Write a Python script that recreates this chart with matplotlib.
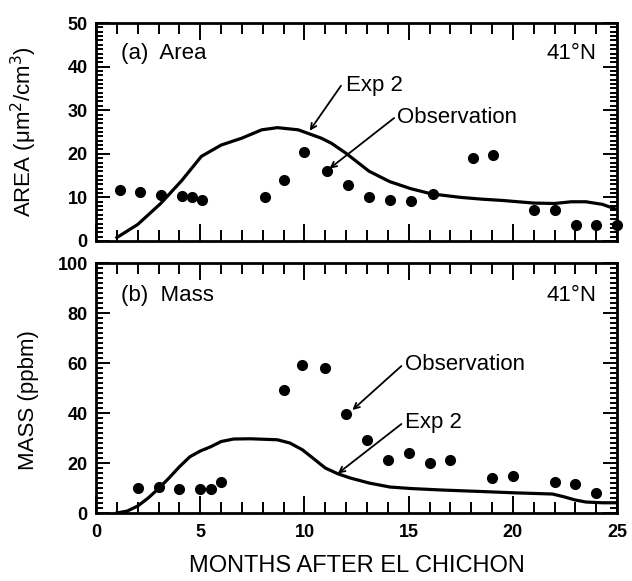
import matplotlib
matplotlib.use('Agg')
import matplotlib.pyplot as plt
from matplotlib.ticker import MultipleLocator

plt.rcParams['font.family'] = ['Liberation Sans', 'DejaVu Sans']

# (a) surface area density, 41N
area_obs_month = [1.15, 2.1, 3.1, 4.1, 4.6, 5.1, 8.1, 9.0, 10.0, 11.1, 12.1,
                  13.1, 14.1, 15.1, 16.15, 18.1, 19.05, 21.0, 22.0, 23.05, 24.0, 25.0]
area_obs = [11.7, 11.2, 10.5, 10.3, 10.0, 9.4, 10.0, 14.1, 20.4, 16.1, 12.9,
            10.2, 9.4, 9.1, 10.8, 19.0, 19.8, 7.2, 7.2, 3.6, 3.6, 3.6]
area_exp_month = [1.0, 2.0, 3.1, 4.1, 5.05, 6.0, 7.0, 7.95, 8.7, 9.7, 10.8, 11.3,
                  12.0, 13.1, 14.1, 15.1, 16.1, 17.5, 18.5, 19.5, 21.0, 22.0,
                  22.8, 23.5, 24.3, 25.0]
area_exp = [0.8, 3.8, 8.6, 13.8, 19.4, 22.0, 23.6, 25.5, 26.0, 25.5, 23.6, 22.4,
            20.1, 16.0, 13.6, 12.0, 10.8, 10.0, 9.6, 9.3, 8.7, 8.6,
            9.0, 9.0, 8.4, 7.2]

# (b) mass, 41N
mass_obs_month = [2.0, 3.0, 4.0, 5.0, 5.5, 6.0, 9.0, 9.9, 11.0, 12.0, 13.0,
                  14.0, 15.0, 16.0, 17.0, 19.0, 20.0, 22.0, 23.0, 24.0]
mass_obs = [10.0, 10.4, 9.8, 9.8, 9.7, 12.4, 49.2, 59.2, 58.2, 39.7, 29.3,
            21.3, 24.1, 20.1, 21.2, 14.1, 14.9, 12.5, 11.5, 8.1]
mass_exp_month = [1.0, 1.5, 2.0, 2.5, 3.0, 3.5, 4.0, 4.5, 5.0, 5.5, 6.0, 6.6,
                  7.4, 8.7, 9.3, 9.9, 10.4, 11.0, 11.6, 12.2, 13.1, 14.1,
                  15.1, 16.6, 18.5, 20.0, 21.9, 22.4, 23.0, 23.5, 24.3, 25.0]
mass_exp = [0.0, 0.8, 2.8, 6.0, 9.8, 14.0, 18.5, 22.5, 24.8, 26.5, 28.6, 29.6,
            29.7, 29.3, 28.0, 25.3, 22.0, 18.0, 15.7, 14.0, 12.0, 10.4,
            9.8, 9.2, 8.6, 8.1, 7.6, 6.6, 5.2, 4.4, 4.1, 4.1]

fig = plt.figure(figsize=(6.32, 5.81), dpi=100)
ax1 = fig.add_axes([0.152, 0.5852, 0.8244, 0.3752])
ax2 = fig.add_axes([0.152, 0.1170, 0.8244, 0.4303])

arrow = dict(arrowstyle='->', color='black', lw=1.3, shrinkA=0, shrinkB=0)
FS = 16


def style(ax, ymax, ymaj, ymin):
    ax.set_xlim(0, 25)
    ax.set_ylim(0, ymax)
    ax.xaxis.set_major_locator(MultipleLocator(5))
    ax.xaxis.set_minor_locator(MultipleLocator(1))
    ax.yaxis.set_major_locator(MultipleLocator(ymaj))
    ax.yaxis.set_minor_locator(MultipleLocator(ymin))
    ax.tick_params(which='both', direction='in', top=True, right=True,
                   width=1.4, labelsize=13)
    ax.tick_params(axis='x', which='major', length=12, pad=8)
    ax.tick_params(axis='x', which='minor', length=8)
    ax.tick_params(axis='y', which='major', length=10, pad=6)
    ax.tick_params(axis='y', which='minor', length=5)
    for s in ax.spines.values():
        s.set_linewidth(2)
    for lab in ax.get_xticklabels() + ax.get_yticklabels():
        lab.set_fontweight('bold')


# panel (a)
ax1.plot(area_exp_month, area_exp, color='black', lw=2.3)
ax1.plot(area_obs_month, area_obs, 'o', color='black', ms=7, clip_on=False)
style(ax1, 50, 10, 1)
ax1.tick_params(axis='x', labelbottom=False)
ax1.set_ylabel('AREA (\u03bcm$^2$/cm$^3$)', fontsize=16)
ax1.text(1.2, 42.9, '(a)  Area', fontsize=FS, va='center')
ax1.text(24.0, 42.9, '41\u00b0N', fontsize=FS, va='center', ha='right')
ax1.text(12.0, 35.6, 'Exp 2', fontsize=FS, va='center')
ax1.annotate('', xy=(10.25, 25.3), xytext=(11.75, 35.6), arrowprops=arrow)
ax1.text(14.45, 28.4, 'Observation', fontsize=FS, va='center')
ax1.annotate('', xy=(11.2, 16.6), xytext=(14.3, 28.2), arrowprops=arrow)

# panel (b)
ax2.plot(mass_exp_month, mass_exp, color='black', lw=2.3)
ax2.plot(mass_obs_month, mass_obs, 'o', color='black', ms=7, clip_on=False)
style(ax2, 100, 20, 2)
ax2.set_ylabel('MASS (ppbm)', fontsize=16)
ax2.set_xlabel('MONTHS AFTER EL CHICHON', fontsize=17, labelpad=10)
ax2.text(1.2, 87.0, '(b)  Mass', fontsize=FS, va='center')
ax2.text(24.0, 87.0, '41\u00b0N', fontsize=FS, va='center', ha='right')
ax2.text(14.8, 59.5, 'Observation', fontsize=FS, va='center')
ax2.annotate('', xy=(12.3, 41.2), xytext=(14.65, 58.8), arrowprops=arrow)
ax2.text(14.8, 36.3, 'Exp 2', fontsize=FS, va='center')
ax2.annotate('', xy=(11.6, 15.8), xytext=(14.65, 35.6), arrowprops=arrow)

ax1.yaxis.set_label_coords(-0.11, 0.5)
ax2.yaxis.set_label_coords(-0.11, 0.45)

fig.savefig('out.png', dpi=100)
